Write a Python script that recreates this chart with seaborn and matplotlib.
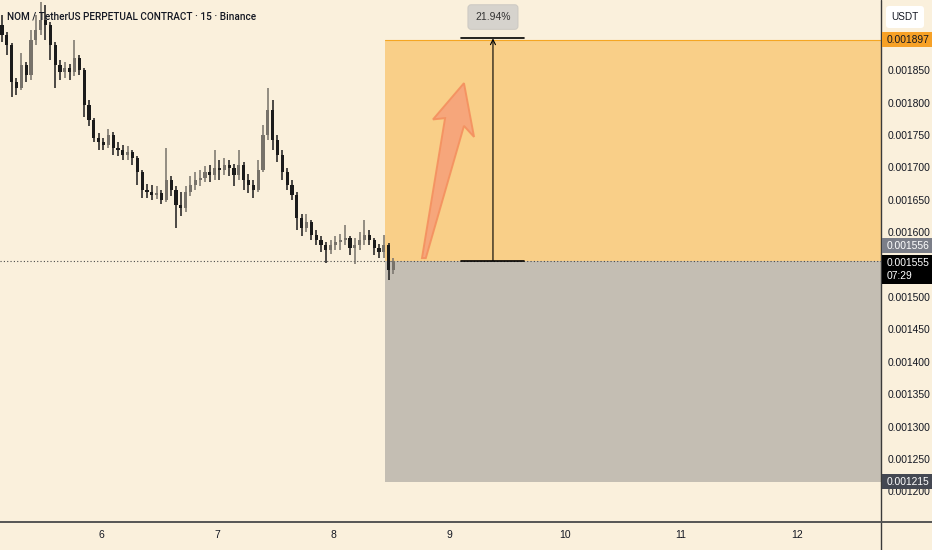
import numpy as np
import pandas as pd

import matplotlib
matplotlib.use('Agg')

import matplotlib.pyplot as plt
import matplotlib.transforms as mtransforms
from matplotlib.patches import Polygon, Rectangle, FancyBboxPatch
from matplotlib.lines import Line2D
import seaborn as sns


# =========================================================
# DATA  (hourly candles, prices in 1e-6 USDT)
# =========================================================

START_DAY = 5.146
FIRST_OPEN = 1919

CLOSE = [
    1904, 1889, 1831, 1822, 1858, 1842, 1896, 1912, 1927, 1919,
    1889, 1858, 1847, 1853, 1847, 1869, 1850, 1796, 1773, 1745,
    1739, 1734, 1750, 1730, 1727, 1719, 1723, 1714, 1693, 1665,
    1662, 1657, 1660, 1649, 1680, 1665, 1642, 1637, 1662, 1673,
    1680, 1683, 1693, 1688, 1699, 1696, 1703, 1699, 1688, 1703,
    1680, 1673, 1665, 1696, 1750, 1788, 1742, 1719, 1693, 1673,
    1657, 1622, 1606, 1615, 1595, 1588, 1580, 1572, 1580, 1585,
    1588, 1591, 1575, 1580, 1588, 1595, 1588, 1575, 1569, 1580,
    1541, 1555,
]

HIGH = [
    1935, 1909, 1892, 1838, 1876, 1862, 1912, 1935, 1955, 1950,
    1924, 1893, 1865, 1862, 1859, 1896, 1873, 1853, 1804, 1776,
    1753, 1745, 1760, 1754, 1739, 1734, 1733, 1727, 1717, 1696,
    1674, 1673, 1671, 1665, 1730, 1686, 1671, 1662, 1671, 1686,
    1693, 1696, 1702, 1703, 1727, 1711, 1714, 1711, 1705, 1727,
    1708, 1690, 1680, 1711, 1765, 1822, 1804, 1750, 1727, 1699,
    1680, 1662, 1628, 1628, 1619, 1603, 1594, 1585, 1588, 1594,
    1597, 1611, 1594, 1591, 1600, 1619, 1603, 1591, 1582, 1595,
    1583, 1560,
]

LOW = [
    1893, 1873, 1808, 1811, 1819, 1831, 1835, 1889, 1904, 1896,
    1865, 1822, 1835, 1838, 1835, 1841, 1842, 1777, 1764, 1739,
    1727, 1727, 1730, 1719, 1717, 1711, 1711, 1703, 1673, 1652,
    1652, 1649, 1651, 1643, 1646, 1656, 1606, 1625, 1631, 1656,
    1665, 1671, 1677, 1677, 1680, 1680, 1688, 1686, 1671, 1680,
    1665, 1660, 1652, 1662, 1693, 1742, 1727, 1708, 1680, 1665,
    1649, 1603, 1594, 1600, 1588, 1580, 1569, 1552, 1566, 1572,
    1572, 1580, 1565, 1551, 1572, 1580, 1580, 1565, 1560, 1560,
    1526, 1535,
]

ENTRY = 0.001556
TARGET = 0.001897
STOP = 0.001215
LAST = 0.001555
GAIN_TEXT = "21.94%"
COUNTDOWN = "07:29"

DAY_TICKS = [6, 7, 8, 9, 10, 11, 12]
PRICE_TICKS = [0.00120, 0.00125, 0.00130, 0.00135, 0.00140, 0.00145,
               0.00150, 0.00160, 0.00165, 0.00170, 0.00175, 0.00180,
               0.00185]

TITLE = "NOM / TetherUS PERPETUAL CONTRACT · 15 · Binance"


# =========================================================
# STYLE
# =========================================================

BG = "#FAF0DC"
ORANGE_BOX = "#F9CF88"
GRAY_BOX = "#C4BEB3"
UP_COL = "#77726a"
DOWN_COL = "#1b1b1b"
TEXT_COL = "#131722"

sns.set_theme(style="white")
plt.rcParams['font.family'] = ['Liberation Sans', 'DejaVu Sans']

W, H = 932, 550
PLOT_W, PLOT_H = 881, 522

X_MIN, X_MAX = 5.1293, 12.7241
Y_MIN, Y_MAX = 0.0011528, 0.0019583


# =========================================================
# CANDLES TABLE
# =========================================================

close = np.array(CLOSE) / 1e6
df = pd.DataFrame({
    "t": START_DAY + np.arange(len(CLOSE)) / 24,
    "open": np.r_[FIRST_OPEN / 1e6, close[:-1]],
    "high": np.array(HIGH) / 1e6,
    "low": np.array(LOW) / 1e6,
    "close": close,
})
df["up"] = df["close"] >= df["open"]
df["color"] = np.where(df["up"], UP_COL, DOWN_COL)


# =========================================================
# FIGURE
# =========================================================

fig = plt.figure(figsize=(W / 100, H / 100), dpi=100, facecolor=BG)
ax = fig.add_axes([0, (H - PLOT_H) / H, PLOT_W / W, PLOT_H / H])
ax.set_facecolor(BG)
ax.set_xlim(X_MIN, X_MAX)
ax.set_ylim(Y_MIN, Y_MAX)

# position boxes (long setup)
box_left = 8.448
ax.add_patch(Rectangle((box_left, ENTRY), X_MAX - box_left, TARGET - ENTRY,
                       facecolor=ORANGE_BOX, edgecolor='none', zorder=1))
ax.plot([box_left, X_MAX], [TARGET, TARGET], color="#F5A623", lw=0.8, zorder=2)
ax.add_patch(Rectangle((box_left, STOP), X_MAX - box_left, ENTRY - STOP,
                       facecolor=GRAY_BOX, edgecolor='none', zorder=1))

# candles
ax.vlines(df["t"], df["low"], df["high"], colors=df["color"], lw=1.1, zorder=3)
body = (df["close"] - df["open"]).abs().clip(lower=0.0000015)
ax.bar(df["t"], body, bottom=df[["open", "close"]].min(axis=1),
       width=0.65 / 24, color=df["color"], linewidth=0, zorder=4)

# last price dotted line
ax.axhline(LAST, color="#4a4a4a", lw=0.8, ls=(0, (1, 2)), zorder=2)

# measure line with caps
mx = 9.379
cap = (9.103, 9.647)
ax.plot(cap, [TARGET + 0.000003] * 2, color="black", lw=1.2, zorder=5)
ax.plot(cap, [ENTRY] * 2, color="black", lw=1.2, zorder=5)
ax.annotate("", xy=(mx, TARGET + 0.000002), xytext=(mx, ENTRY),
            arrowprops=dict(arrowstyle="->", color="black", lw=0.8,
                            shrinkA=0, shrinkB=0, mutation_scale=9),
            zorder=5)
ax.text(mx, 0.001932, GAIN_TEXT, ha="center", va="center", fontsize=7.5,
        color="#333333", zorder=6,
        bbox=dict(boxstyle="round,pad=0.7,rounding_size=0.3",
                  facecolor="#D6D3CD", edgecolor="#C9C6C0", lw=0.6))

# hand drawn arrow
arrow_pts = [(8.767, 0.001560), (8.966, 0.001776), (8.862, 0.001774),
             (9.129, 0.001830), (9.216, 0.001747), (9.129, 0.001764),
             (8.800, 0.001560)]
ax.add_patch(Polygon(arrow_pts, closed=True, facecolor="#F6A27A",
                     edgecolor="#F4905F", lw=1.4, alpha=0.9, zorder=4))

# title
ax.text(7 / PLOT_W, 1 - 17 / PLOT_H, TITLE, transform=ax.transAxes,
        ha="left", va="center", fontsize=7.2, color=TEXT_COL,
        family=["Roboto", "DejaVu Sans"], fontweight="medium", zorder=6)

# axes / ticks
for s in ax.spines.values():
    s.set_visible(False)
ax.set_xticks(DAY_TICKS)
ax.set_xticklabels([str(d) for d in DAY_TICKS])
ax.yaxis.tick_right()
ax.set_yticks(PRICE_TICKS)
ax.set_yticklabels([f"{p:.6f}" for p in PRICE_TICKS])
ax.tick_params(axis="x", length=0, pad=6, labelsize=7.5, labelcolor=TEXT_COL)
ax.tick_params(axis="y", length=0, pad=4.5, labelsize=7.4, labelcolor=TEXT_COL)
ax.grid(False)

# frame lines
fig.add_artist(Line2D([PLOT_W / W] * 2, [0, 1], transform=fig.transFigure,
                      color="#3a3a3a", lw=1))
fig.add_artist(Line2D([0, 1], [(H - PLOT_H) / H] * 2, transform=fig.transFigure,
                      color="#555555", lw=1.4))


# =========================================================
# PRICE TAGS ON THE RIGHT AXIS
# =========================================================

ident = mtransforms.IdentityTransform()


def price_y(p):
    return ax.transData.transform((X_MIN, p))[1]


def tag(yc, h, text, face, fg):
    y0 = yc - h / 2
    fig.add_artist(Rectangle((PLOT_W + 1, y0), W - PLOT_W - 1, h,
                             transform=ident, facecolor=face,
                             edgecolor='none', zorder=10))
    fig.text(PLOT_W + 6, yc, text, transform=ident, ha="left",
             va="center", fontsize=7.4, color=fg, zorder=11,
             linespacing=1.3)


tag(price_y(TARGET), 15, f"{TARGET:.6f}", "#F7A126", TEXT_COL)
tag(price_y(ENTRY) + 15, 15, f"{ENTRY:.6f}", "#7B7E88", "white")
tag(price_y(LAST) - 8, 29, f"{LAST:.6f}\n{COUNTDOWN}", "black", "white")
tag(price_y(STOP), 15, f"{STOP:.6f}", "#444852", "white")

fig.add_artist(FancyBboxPatch((886, H - 28), 38, 22, transform=ident,
                              boxstyle="round,pad=0,rounding_size=3",
                              facecolor="white", edgecolor="none", zorder=10))
fig.text(905, H - 17, "USDT", transform=ident, ha="center", va="center",
         fontsize=7.2, color=TEXT_COL, zorder=11)

fig.savefig("out.png", dpi=100, facecolor=BG)
plt.close(fig)
